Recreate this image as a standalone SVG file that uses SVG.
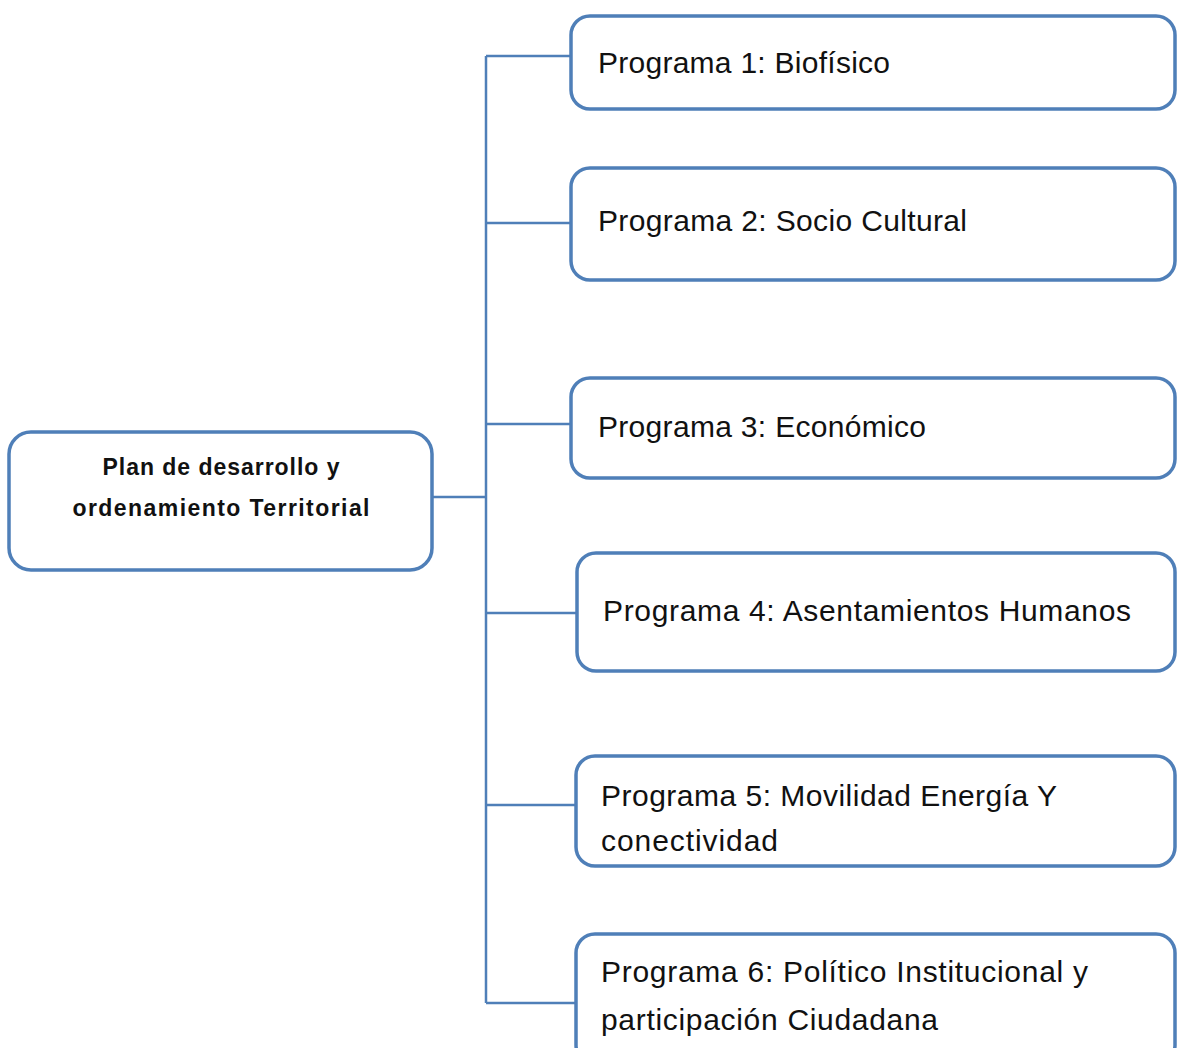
<svg xmlns="http://www.w3.org/2000/svg" width="1177" height="1048" viewBox="0 0 1177 1048">
<style>
.box{fill:#ffffff;stroke:#4f7fb8;stroke-width:3.5}
.conn{fill:none;stroke:#4f7fb8;stroke-width:2.5}
.t{font-family:"Liberation Sans",Arial,sans-serif;font-size:30px;fill:#111111}
.tb{font-family:"Liberation Sans",Arial,sans-serif;font-size:23px;font-weight:bold;fill:#111111}
</style>
<rect width="1177" height="1048" fill="#ffffff"/>
<g id="connectors">
<path class="conn" d="M432 497 H486"/>
<path class="conn" d="M486 56 V1003"/>
<path class="conn" d="M486 56 H571"/>
<path class="conn" d="M486 223 H571"/>
<path class="conn" d="M486 424 H571"/>
<path class="conn" d="M486 613 H577"/>
<path class="conn" d="M486 805 H576"/>
<path class="conn" d="M486 1003 H576"/>
</g>
<g id="root">
<rect class="box" x="9" y="432" width="423" height="138" rx="22"/>
<text class="tb" x="221" y="475" text-anchor="middle" textLength="237">Plan de desarrollo y</text>
<text class="tb" x="221" y="516" text-anchor="middle" textLength="297">ordenamiento Territorial</text>
</g>
<g id="p1">
<rect class="box" x="571" y="16" width="604" height="93" rx="19"/>
<text class="t" x="598" y="73" textLength="292">Programa 1: Biofísico</text>
</g>
<g id="p2">
<rect class="box" x="571" y="168" width="604" height="112" rx="19"/>
<text class="t" x="598" y="231" textLength="369">Programa 2: Socio Cultural</text>
</g>
<g id="p3">
<rect class="box" x="571" y="378" width="604" height="100" rx="19"/>
<text class="t" x="598" y="437" textLength="328">Programa 3: Económico</text>
</g>
<g id="p4">
<rect class="box" x="577" y="553" width="598" height="118" rx="19"/>
<text class="t" x="603" y="621" textLength="528">Programa 4: Asentamientos Humanos</text>
</g>
<g id="p5">
<rect class="box" x="576" y="756" width="599" height="110" rx="19"/>
<text class="t" x="601" y="806" textLength="456">Programa 5: Movilidad Energía Y</text>
<text class="t" x="601" y="851" textLength="177">conectividad</text>
</g>
<g id="p6">
<rect class="box" x="576" y="934" width="599" height="130" rx="19"/>
<text class="t" x="601" y="982" textLength="487">Programa 6: Político Institucional y</text>
<text class="t" x="601" y="1030" textLength="337">participación Ciudadana</text>
</g>
</svg>
